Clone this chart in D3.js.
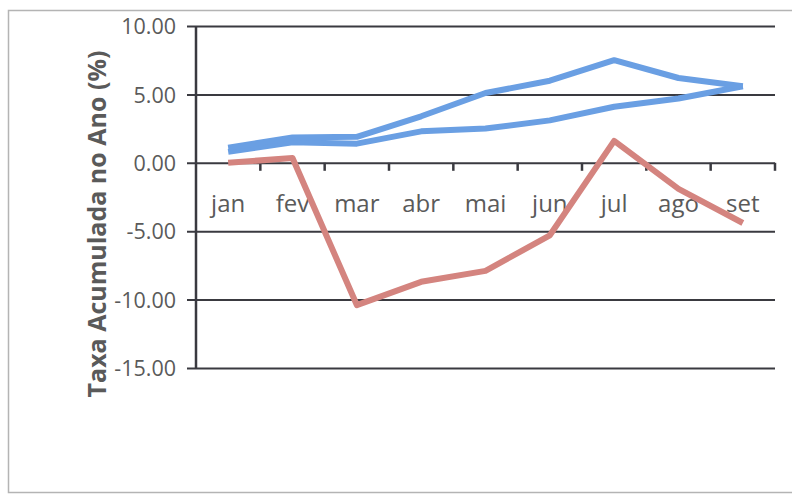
<!DOCTYPE html>
<html>
<head>
<meta charset="utf-8">
<script src="https://cdn.jsdelivr.net/npm/d3@7"></script>
<style>
  html, body { margin: 0; padding: 0; background: #ffffff; }
  svg { display: block; }
</style>
</head>
<body>
<svg id="chart" width="792" height="495"></svg>
<script>
const categories = ["jan", "fev", "mar", "abr", "mai", "jun", "jul", "ago", "set"];
const blueUpper = [1.1, 1.85, 1.9, 3.4, 5.1, 6.0, 7.5, 6.2, 5.6];
const blueLower = [0.8, 1.5, 1.4, 2.3, 2.5, 3.1, 4.1, 4.7, 5.6];
const redSeries = [0.0, 0.35, -10.4, -8.7, -7.9, -5.3, 1.6, -1.9, -4.4];
const yTicks = [10, 5, 0, -5, -10, -15];
const yTitle = "Taxa Acumulada no Ano (%)";

const svg = d3.select("#chart");
const W = 792, H = 495;
const plot = { left: 196, right: 775, top: 26, bottom: 368 };

// outer frame
svg.append("rect")
  .attr("x", 8.5).attr("y", 10.5)
  .attr("width", W + 10).attr("height", 482)
  .attr("fill", "none").attr("stroke", "#b4b4b4").attr("stroke-width", 1.5);

const x = d3.scaleBand().domain(categories).range([plot.left, plot.right]).padding(0);
const y = d3.scaleLinear().domain([-15, 10]).range([plot.bottom, plot.top]);

const textColor = "#5a5a5a";
const gridColor = "#3a3a40";
const fontFam = "'Open Sans', 'Noto Sans', sans-serif";
const fmt = d => d3.format(".2f")(d).replace("\u2212", "-");

// gridlines + y axis
const yAxis = d3.axisLeft(y).tickValues(yTicks).tickFormat(fmt)
  .tickSize(-(plot.right - plot.left)).tickPadding(10);
const gy = svg.append("g").attr("transform", `translate(${plot.left},0)`).call(yAxis);
gy.select(".domain").remove();
gy.selectAll(".tick line")
  .attr("x1", -9)
  .attr("stroke", gridColor).attr("stroke-width", 2);
gy.selectAll(".tick text")
  .attr("x", -20)
  .attr("dy", "0.36em")
  .attr("fill", textColor).style("font-family", fontFam).style("font-size", "21.5px");

// left axis line
svg.append("line")
  .attr("x1", plot.left).attr("x2", plot.left)
  .attr("y1", y(10)).attr("y2", y(-15))
  .attr("stroke", gridColor).attr("stroke-width", 2.5);

// x axis at zero with tick marks between categories
const xTickPositions = categories.map(c => x(c) + x.bandwidth());
const gx = svg.append("g");
gx.selectAll("line.xt").data(xTickPositions).enter().append("line")
  .attr("class", "xt")
  .attr("x1", d => d).attr("x2", d => d)
  .attr("y1", y(0)).attr("y2", y(0) + 8)
  .attr("stroke", gridColor).attr("stroke-width", 2.5);
gx.selectAll("text").data(categories).enter().append("text")
  .attr("x", d => x(d) + x.bandwidth() / 2)
  .attr("y", y(0) + 49)
  .attr("text-anchor", "middle")
  .attr("fill", textColor)
  .style("font-family", fontFam).style("font-size", "24px")
  .text(d => d);

// y-axis title
svg.append("text")
  .attr("transform", `translate(106,${(plot.top + plot.bottom) / 2 + 27}) rotate(-90)`)
  .attr("text-anchor", "middle")
  .attr("fill", textColor)
  .style("font-family", fontFam).style("font-size", "25px").style("font-weight", "bold")
  .text(yTitle);

// series lines
const line = d3.line()
  .x((d, i) => x(categories[i]) + x.bandwidth() / 2)
  .y(d => y(d));

const series = [
  { values: blueLower, color: "#6a9fe3" },
  { values: blueUpper, color: "#6a9fe3" },
  { values: redSeries, color: "#d4847f" }
];
svg.selectAll("path.series").data(series).enter().append("path")
  .attr("class", "series")
  .attr("d", d => line(d.values))
  .attr("fill", "none")
  .attr("stroke", d => d.color)
  .attr("stroke-width", 6)
  .attr("stroke-linejoin", "round");
</script>
</body>
</html>
